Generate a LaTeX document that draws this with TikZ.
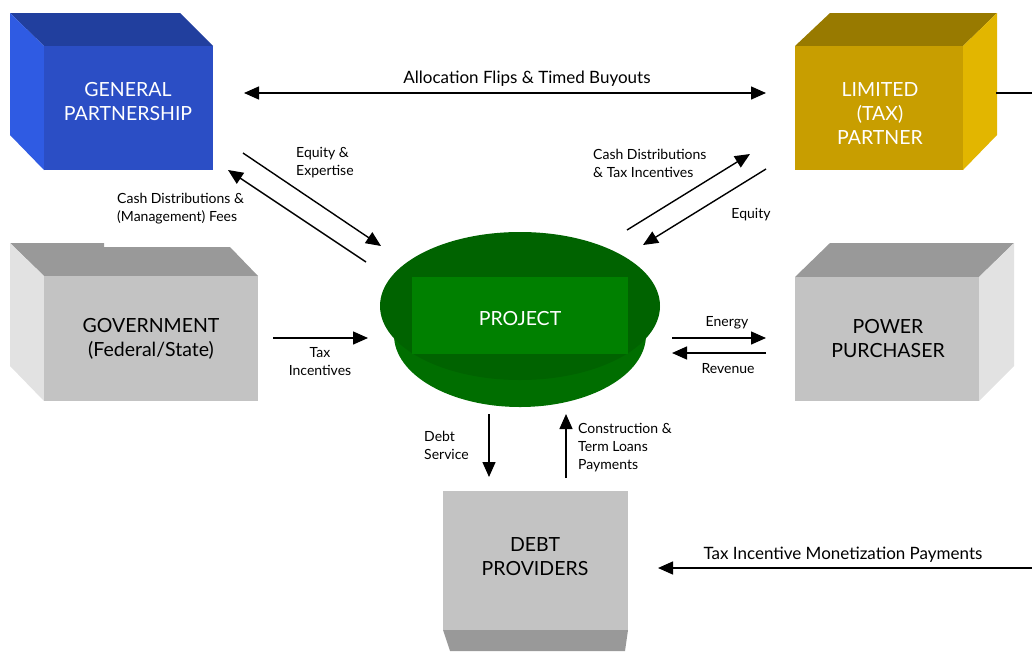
\documentclass[tikz,border=0pt]{standalone}
\usepackage{fontspec}
\setmainfont{Lato}
\usetikzlibrary{arrows.meta}
\definecolor{gpfront}{HTML}{2B4EC5}
\definecolor{gptop}{HTML}{213F9E}
\definecolor{gpside}{HTML}{2F5BE3}
\definecolor{lpfront}{HTML}{C89E00}
\definecolor{lptop}{HTML}{987A00}
\definecolor{lpside}{HTML}{E2B600}
\definecolor{grfront}{HTML}{C3C3C3}
\definecolor{grtop}{HTML}{999999}
\definecolor{grside}{HTML}{E2E2E2}
\definecolor{prtop}{HTML}{006300}
\definecolor{prside}{HTML}{006E00}
\definecolor{prin}{HTML}{008000}
\begin{document}
\begin{tikzpicture}[x=1pt,y=-1pt,
  boxtext/.style={inner sep=0pt, align=center, font=\fontsize{19.5}{24}\selectfont},
  arr/.style={-{Triangle[length=15pt,width=13pt]}, line width=1.4pt},
  dbl/.style={{Triangle[length=15pt,width=13pt]}-{Triangle[length=15pt,width=13pt]}, line width=1.4pt},
  plain/.style={line width=1.4pt},
  lbl/.style={font=\fontsize{14}{18}\selectfont, align=left, inner sep=0pt},
  biglbl/.style={font=\fontsize{17}{19}\selectfont, inner sep=0pt}
]
\useasboundingbox (0,0) rectangle (1032,651);
% General Partnership
\fill[gptop] (10,13) -- (180,13) -- (213,46) -- (44,46) -- cycle;
\fill[gpside] (10,13) -- (44,46) -- (44,170) -- (10,135) -- cycle;
\fill[gpfront] (44,46) rectangle (213,170);
\node[boxtext, text=white] (gp) at (128,102) {GENERAL\\PARTNERSHIP};
% Limited Partner
\fill[lptop] (830,13) -- (997,13) -- (963,46) -- (795,46) -- cycle;
\fill[lpside] (963,46) -- (997,13) -- (997,135) -- (963,170) -- cycle;
\fill[lpfront] (795,46) rectangle (963,170);
\node[boxtext, text=white] (lp) at (880,114) {LIMITED\\(TAX)\\PARTNER};
% Government
\fill[grtop] (10,243) -- (104,243) -- (104,247) -- (230,247) -- (258,276) -- (44,276) -- cycle;
\fill[grside] (10,243) -- (44,276) -- (44,401) -- (10,366) -- cycle;
\fill[grfront] (44,276) rectangle (258,401);
\node[boxtext] (gov) at (151,339) {GOVERNMENT\\(Federal/State)};
% Power purchaser
\fill[grtop] (830,243) -- (1014,243) -- (979,277) -- (795,277) -- cycle;
\fill[grside] (979,277) -- (1014,243) -- (1014,366) -- (979,401) -- cycle;
\fill[grfront] (795,277) rectangle (979,401);
\node[boxtext] (pp) at (888,339) {POWER\\PURCHASER};
% Debt providers
\fill[grtop] (443,630) -- (628,630) -- (625,651) -- (450,651) -- cycle;
\fill[grfront] (443,491) rectangle (628,630);
\node[boxtext] (dp) at (535,557) {DEBT\\PROVIDERS};
% Project
\fill[prside] (520,335) ellipse [x radius=126, y radius=72];
\fill[prside] (380,307) -- (394,335) -- (646,335) -- (660,307) -- cycle;
\fill[prtop] (520,306) ellipse [x radius=140, y radius=74];
\fill[prin] (412,277) rectangle (628,354);
\node[boxtext, text=white] (pr) at (520,319) {PROJECT};
% connector end points
\coordinate (af1) at (244,93);   \coordinate (af2) at (766,93);
\coordinate (lpr1) at (996,93);  \coordinate (lpr2) at (1032,93);
\coordinate (tm1) at (1032,568); \coordinate (tm2) at (658,568);
\coordinate (ee1) at (243,153);  \coordinate (ee2) at (381,246);
\coordinate (cf1) at (366,262);  \coordinate (cf2) at (228,170);
\coordinate (ct1) at (627,230);  \coordinate (ct2) at (750,154);
\coordinate (eq1) at (766,169);  \coordinate (eq2) at (643,245);
\coordinate (ti1) at (273,338);  \coordinate (ti2) at (368,338);
\coordinate (en1) at (672,338);  \coordinate (en2) at (766,338);
\coordinate (rv1) at (766,353);  \coordinate (rv2) at (672,353);
\coordinate (ds1) at (489,414);  \coordinate (ds2) at (489,477);
\coordinate (cl1) at (566,478);  \coordinate (cl2) at (566,414);
% connectors
\draw[dbl] (af1) -- (af2);
\draw[plain] (lpr1) -- (lpr2);
\draw[arr] (tm1) -- (tm2);
\draw[arr] (ee1) -- (ee2);
\draw[arr] (cf1) -- (cf2);
\draw[arr] (ct1) -- (ct2);
\draw[arr] (eq1) -- (eq2);
\draw[arr] (ti1) -- (ti2);
\draw[arr] (en1) -- (en2);
\draw[arr] (rv1) -- (rv2);
\draw[arr] (ds1) -- (ds2);
\draw[arr] (cl1) -- (cl2);
% labels
\node[biglbl] (laf) at (527,79) {Allocation Flips \& Timed Buyouts};
\node[biglbl] (ltm) at (843,555) {Tax Incentive Monetization Payments};
\node[lbl, anchor=west] (lee) at (296,163) {Equity \&\\Expertise};
\node[lbl, anchor=west] (lcf) at (117,208.5) {Cash Distributions \&\\(Management) Fees};
\node[lbl, anchor=west] (lct) at (593,163) {Cash Distributions\\\& Tax Incentives};
\node[lbl] (leq) at (751,215) {Equity};
\node[lbl, align=center] (lti) at (320,362) {Tax\\Incentives};
\node[lbl] (len) at (727,323) {Energy};
\node[lbl] (lrv) at (728,369) {Revenue};
\node[lbl, anchor=west] (lds) at (424,445) {Debt\\Service};
\node[lbl, anchor=west] (lcl) at (578,448) {Construction \&\\Term Loans\\Payments};
\end{tikzpicture}
\end{document}
